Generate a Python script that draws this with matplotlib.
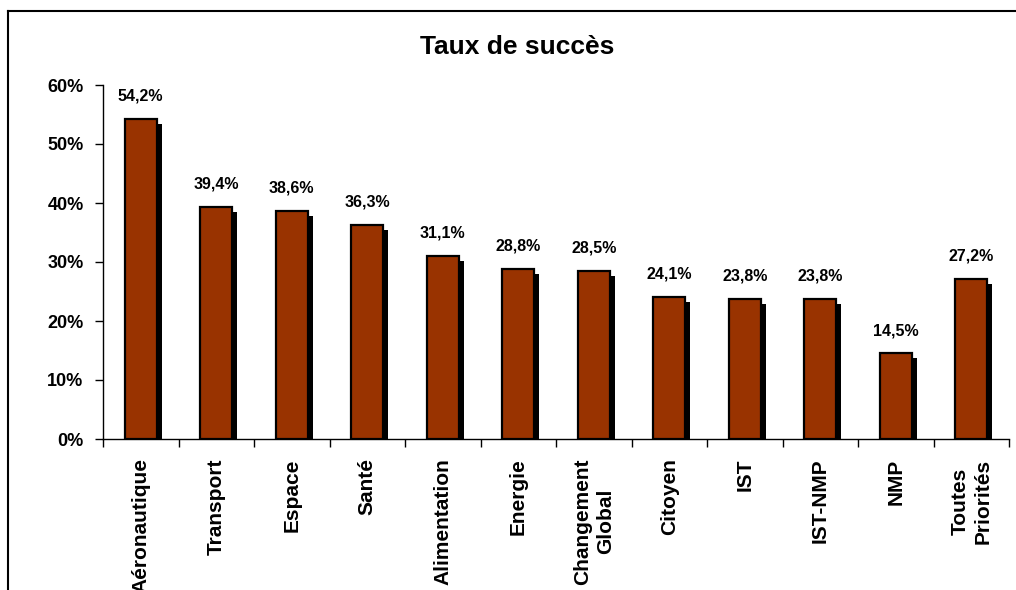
import matplotlib
matplotlib.use("Agg")
import matplotlib.pyplot as plt
import matplotlib.transforms as mtransforms
import numpy as np

categories = ["Aéronautique", "Transport", "Espace", "Santé", "Alimentation",
              "Energie", "Changement\nGlobal", "Citoyen", "IST", "IST-NMP",
              "NMP", "Toutes\nPriorités"]
values = [54.2, 39.4, 38.6, 36.3, 31.1, 28.8, 28.5, 24.1, 23.8, 23.8, 14.5, 27.2]
value_labels = ["54,2%", "39,4%", "38,6%", "36,3%", "31,1%", "28,8%", "28,5%",
                "24,1%", "23,8%", "23,8%", "14,5%", "27,2%"]
yticks = [0, 10, 20, 30, 40, 50, 60]
ytick_labels = ["0%", "10%", "20%", "30%", "40%", "50%", "60%"]

plt.rcParams['font.family'] = ['Liberation Sans', 'DejaVu Sans']

fig = plt.figure(figsize=(10.16, 5.9), dpi=100)
W, H = 1016, 590
ax = fig.add_axes([103 / W, 1 - 439 / H, (1009 - 103) / W, (439 - 85) / H])

x = np.arange(len(categories))
bw = 0.43
shadow = mtransforms.ScaledTranslation(5 / 100, -5 / 100, fig.dpi_scale_trans)
ax.bar(x, values, width=bw, color="black", edgecolor="black", linewidth=0,
       transform=ax.transData + shadow, zorder=2)
ax.bar(x, values, width=bw, color="#993300", edgecolor="black", linewidth=1.6,
       zorder=3)

for xi, v, lab in zip(x, values, value_labels):
    ax.annotate(lab, (xi, v), xytext=(0, 11), textcoords="offset points",
                ha="center", va="bottom", fontsize=11.5, fontweight="bold")

ax.set_xlim(-0.5, len(categories) - 0.5)
ax.set_ylim(0, 60)
ax.set_yticks(yticks)
ax.set_yticklabels(ytick_labels, fontsize=13, fontweight="bold")
ax.tick_params(axis="y", direction="out", length=6, width=1, pad=8)

ax.set_xticks(np.arange(len(categories) + 1) - 0.5)
ax.set_xticklabels([])
ax.tick_params(axis="x", direction="out", length=6, width=1)
for xi, c in zip(x, categories):
    ax.annotate(c, (xi, 0), xytext=(0, -14), textcoords="offset points",
                rotation=90, ha="center", va="top", fontsize=15,
                fontweight="bold", multialignment="center", linespacing=1.25)

for s in ["top", "right"]:
    ax.spines[s].set_visible(False)
ax.spines["left"].set_linewidth(1)
ax.spines["bottom"].set_linewidth(1)

fig.text(517 / W, 1 - 47 / H, "Taux de succès", ha="center", va="center",
         fontsize=19, fontweight="bold")

# figure border (left and top visible)
fig.add_artist(plt.Line2D([8 / W, 8 / W], [0, 1 - 11 / H], transform=fig.transFigure,
                          color="black", linewidth=1.5))
fig.add_artist(plt.Line2D([8 / W, 1], [1 - 11 / H, 1 - 11 / H], transform=fig.transFigure,
                          color="black", linewidth=1.5))

fig.savefig("out.png", dpi=100)
